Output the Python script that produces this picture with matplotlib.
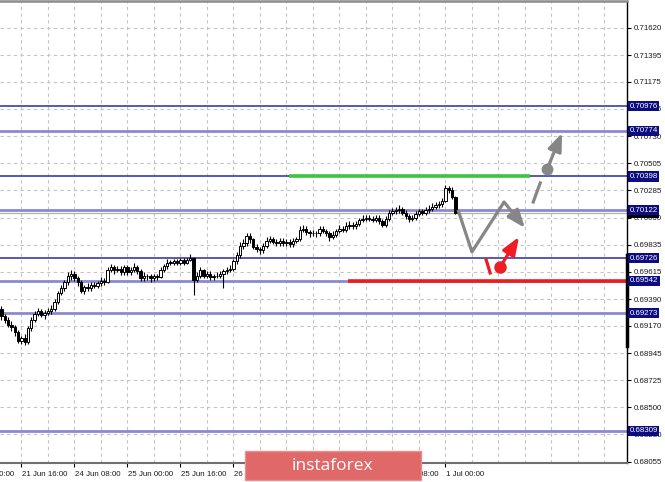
import numpy as np
import matplotlib.pyplot as plt
from matplotlib.patches import Rectangle

# H1 candles, bar index on x
opens = [0.6931, 0.6925, 0.6922, 0.6918, 0.6916, 0.6912, 0.6905, 0.6907, 0.6904, 0.6915,
         0.6922, 0.6927, 0.6929, 0.6926, 0.6928, 0.6929, 0.6931, 0.6937, 0.6944, 0.6948,
         0.6953, 0.6958, 0.6960, 0.6956, 0.6953, 0.6946, 0.6949, 0.6948, 0.6951, 0.6950,
         0.6952, 0.6954, 0.6953, 0.6963, 0.6965, 0.6963, 0.6964, 0.6961, 0.6965, 0.6961,
         0.6963, 0.6965, 0.6962, 0.6956, 0.6958, 0.6958, 0.6956, 0.6958, 0.6957, 0.6963,
         0.6966, 0.6969, 0.6969, 0.6970, 0.6969, 0.6971, 0.6969, 0.6971, 0.6973, 0.6955,
         0.6958, 0.6963, 0.6958, 0.6960, 0.6957, 0.6958, 0.6958, 0.6960, 0.6962, 0.6963,
         0.6964, 0.6970, 0.6975, 0.6983, 0.6985, 0.6991, 0.6988, 0.6982, 0.6980, 0.6979,
         0.6983, 0.6987, 0.6988, 0.6986, 0.6985, 0.6987, 0.6985, 0.6986, 0.6984, 0.6987,
         0.6988, 0.6996, 0.6997, 0.6994, 0.6993, 0.6993, 0.6993, 0.6997, 0.6995, 0.6993,
         0.6990, 0.6992, 0.6995, 0.6997, 0.6996, 0.6999, 0.7000, 0.6999, 0.7001, 0.7004,
         0.7005, 0.7006, 0.7005, 0.7004, 0.7006, 0.7003, 0.7000, 0.7005, 0.7010, 0.7011,
         0.7012, 0.7013, 0.7010, 0.7007, 0.7005, 0.7006, 0.7009, 0.7011, 0.7010, 0.7012,
         0.7013, 0.7015, 0.7016, 0.7017, 0.7020, 0.7030, 0.7029, 0.7023]
highs = [0.6933, 0.6927, 0.6924, 0.6921, 0.6918, 0.6914, 0.6909, 0.6910, 0.6917, 0.6924,
         0.6929, 0.6932, 0.6931, 0.6930, 0.6932, 0.6934, 0.6939, 0.6946, 0.6951, 0.6955,
         0.6961, 0.6963, 0.6962, 0.6958, 0.6955, 0.6951, 0.6952, 0.6953, 0.6953, 0.6954,
         0.6957, 0.6956, 0.6965, 0.6968, 0.6967, 0.6966, 0.6966, 0.6967, 0.6967, 0.6965,
         0.6969, 0.6967, 0.6964, 0.6961, 0.6960, 0.6960, 0.6960, 0.6960, 0.6965, 0.6968,
         0.6972, 0.6971, 0.6972, 0.6972, 0.6973, 0.6973, 0.6973, 0.6976, 0.6974, 0.6961,
         0.6965, 0.6964, 0.6962, 0.6962, 0.6960, 0.6961, 0.6962, 0.6964, 0.6965, 0.6967,
         0.6972, 0.6978, 0.6986, 0.6988, 0.6993, 0.6993, 0.6989, 0.6984, 0.6982, 0.6985,
         0.6990, 0.6991, 0.6990, 0.6988, 0.6989, 0.6989, 0.6988, 0.6988, 0.6989, 0.6990,
         0.6999, 0.7000, 0.6999, 0.6996, 0.6996, 0.6995, 0.6999, 0.6999, 0.6997, 0.6995,
         0.6995, 0.6997, 0.7000, 0.6999, 0.7002, 0.7003, 0.7002, 0.7003, 0.7006, 0.7008,
         0.7008, 0.7008, 0.7007, 0.7008, 0.7008, 0.7005, 0.7007, 0.7012, 0.7014, 0.7015,
         0.7016, 0.7015, 0.7012, 0.7009, 0.7008, 0.7011, 0.7013, 0.7013, 0.7015, 0.7016,
         0.7018, 0.7019, 0.7020, 0.7022, 0.7033, 0.7032, 0.7031, 0.7024]
lows = [0.6922, 0.6919, 0.6916, 0.6913, 0.6909, 0.6903, 0.6902, 0.6901, 0.6902, 0.6913,
        0.6920, 0.6925, 0.6924, 0.6923, 0.6926, 0.6927, 0.6929, 0.6935, 0.6942, 0.6946,
        0.6951, 0.6955, 0.6954, 0.6950, 0.6944, 0.6943, 0.6946, 0.6946, 0.6948, 0.6948,
        0.6950, 0.6951, 0.6952, 0.6961, 0.6960, 0.6961, 0.6959, 0.6959, 0.6959, 0.6959,
        0.6961, 0.6960, 0.6954, 0.6954, 0.6955, 0.6953, 0.6954, 0.6955, 0.6956, 0.6961,
        0.6964, 0.6967, 0.6967, 0.6967, 0.6967, 0.6967, 0.6968, 0.6970, 0.6942, 0.6953,
        0.6956, 0.6956, 0.6956, 0.6955, 0.6955, 0.6956, 0.6956, 0.6948, 0.6960, 0.6961,
        0.6962, 0.6968, 0.6973, 0.6980, 0.6983, 0.6985, 0.6980, 0.6978, 0.6976, 0.6977,
        0.6981, 0.6985, 0.6984, 0.6983, 0.6983, 0.6983, 0.6983, 0.6982, 0.6982, 0.6985,
        0.6987, 0.6994, 0.6992, 0.6990, 0.6991, 0.6990, 0.6991, 0.6993, 0.6991, 0.6987,
        0.6988, 0.6990, 0.6993, 0.6994, 0.6994, 0.6997, 0.6997, 0.6997, 0.6999, 0.7002,
        0.7003, 0.7003, 0.7002, 0.7002, 0.7001, 0.6998, 0.6998, 0.7003, 0.7008, 0.7009,
        0.7010, 0.7008, 0.7005, 0.7002, 0.7003, 0.7004, 0.7007, 0.7008, 0.7008, 0.7010,
        0.7011, 0.7013, 0.7014, 0.7015, 0.7019, 0.7026, 0.7021, 0.7009]
closes = [0.6925, 0.6922, 0.6918, 0.6916, 0.6912, 0.6905, 0.6907, 0.6904, 0.6915, 0.6922,
          0.6927, 0.6929, 0.6926, 0.6928, 0.6929, 0.6931, 0.6937, 0.6944, 0.6948, 0.6953,
          0.6958, 0.6960, 0.6956, 0.6953, 0.6946, 0.6949, 0.6948, 0.6951, 0.6950, 0.6952,
          0.6954, 0.6953, 0.6963, 0.6965, 0.6963, 0.6964, 0.6961, 0.6965, 0.6961, 0.6963,
          0.6965, 0.6962, 0.6956, 0.6958, 0.6958, 0.6956, 0.6958, 0.6957, 0.6963, 0.6966,
          0.6969, 0.6969, 0.6970, 0.6969, 0.6971, 0.6969, 0.6971, 0.6973, 0.6955, 0.6958,
          0.6963, 0.6958, 0.6960, 0.6957, 0.6958, 0.6958, 0.6960, 0.6962, 0.6963, 0.6964,
          0.6970, 0.6975, 0.6983, 0.6985, 0.6991, 0.6988, 0.6982, 0.6980, 0.6979, 0.6983,
          0.6987, 0.6988, 0.6986, 0.6985, 0.6987, 0.6985, 0.6986, 0.6984, 0.6987, 0.6988,
          0.6996, 0.6997, 0.6994, 0.6993, 0.6993, 0.6993, 0.6997, 0.6995, 0.6993, 0.6990,
          0.6992, 0.6995, 0.6997, 0.6996, 0.6999, 0.7000, 0.6999, 0.7001, 0.7004, 0.7005,
          0.7006, 0.7005, 0.7004, 0.7006, 0.7003, 0.7000, 0.7005, 0.7010, 0.7011, 0.7012,
          0.7013, 0.7010, 0.7007, 0.7005, 0.7006, 0.7009, 0.7011, 0.7010, 0.7012, 0.7013,
          0.7015, 0.7016, 0.7017, 0.7020, 0.7030, 0.7029, 0.7023, 0.7010]
bid = 0.70100

# price scale on the right
price_ticks = [0.71620, 0.71395, 0.71175, 0.70955, 0.70730, 0.70505, 0.70285, 0.70060,
               0.69835, 0.69615, 0.69390, 0.69170, 0.68945, 0.68725, 0.68500, 0.68280, 0.68055]

# time scale
date_bars = [-10, 6, 22, 38, 54, 70, 86, 102, 118, 134]
date_labels = ["21 Jun 00:00", "21 Jun 16:00", "24 Jun 08:00", "25 Jun 00:00", "25 Jun 16:00",
               "26 Jun 08:00", "27 Jun 00:00", "27 Jun 16:00", "28 Jun 08:00", "1 Jul 00:00"]

# support / resistance levels
levels = [0.70976, 0.70774, 0.70398, 0.70122, 0.69726, 0.69542, 0.69273, 0.68309]
level_light = [False, True, False, True, False, True, True, True]

green_level, green_from, green_to = 0.70398, 86.8, 159.5
red_level, red_from = 0.69542, 104.6

# forecast drawing
gray_path_x = [137.8, 142.0, 151.7, 158.0]
gray_path_y = [0.70123, 0.69778, 0.70188, 0.69975]
gray_dash_x = [160.5, 162.6]
gray_dash_y = [0.70188, 0.70344]
gray_dot = (164.7, 0.70459)
gray_tip = (169.2, 0.70755)
red_dash_x = [146.3, 147.5]
red_dash_y = [0.69712, 0.69605]
red_dot = (150.5, 0.69654)
red_tip = (156.2, 0.69901)

xmin, xmax = -0.45, 188.8
ymin, ymax = 0.68044, 0.71839

fig = plt.figure(figsize=(6.65, 4.82), dpi=100)
ax = fig.add_axes([0, 19 / 482, 627 / 665, 462 / 482])
ax.set_xlim(xmin, xmax)
ax.set_ylim(ymin, ymax)

font = 'Liberation Sans'
fs = 5.7

# grid
for b in np.arange(-2, xmax, 8):
    ax.axvline(b, color='#c4c4c4', lw=0.8, ls=(0, (3, 3)), zorder=0)
for p in price_ticks:
    ax.axhline(p, color='#c4c4c4', lw=0.8, ls=(0, (3, 3)), zorder=0)

# levels
for lv, light in zip(levels, level_light):
    if light:
        ax.axhline(lv, color='#8a8ad0', lw=2.0, zorder=1)
    else:
        ax.axhline(lv, color='#3c3ca8', lw=1.2, zorder=1)
ax.axhline(bid, color='#b0b0b0', lw=0.9, zorder=1)

ax.hlines(green_level, green_from, green_to, color='#3cc43c', lw=2.6, zorder=2)
ax.hlines(red_level, red_from, xmax, color='#ee1c1c', lw=2.6, zorder=2)

# candles
for i, (o, h, l, c) in enumerate(zip(opens, highs, lows, closes)):
    ax.vlines(i, l, h, color='black', lw=0.8, zorder=3)
    body = max(abs(c - o), 0.00003)
    if c >= o:
        ax.bar(i, body, 0.7, bottom=min(o, c), color='white', edgecolor='black', lw=0.7, zorder=4)
    else:
        ax.bar(i, body, 0.7, bottom=min(o, c), color='black', edgecolor='black', lw=0.7, zorder=4)

# forecast arrows
gray = '#868686'
red = '#ee1c24'
ax.plot(gray_path_x[:3], gray_path_y[:3], color=gray, lw=2.3, solid_capstyle='butt', zorder=5)
ax.annotate('', xy=(gray_path_x[3], gray_path_y[3]), xytext=(gray_path_x[2], gray_path_y[2]),
            arrowprops=dict(arrowstyle='-|>,head_length=0.9,head_width=0.35', color=gray, lw=2.3,
                            shrinkA=0, shrinkB=0, mutation_scale=12), zorder=5)
ax.plot(gray_dash_x, gray_dash_y, color=gray, lw=2.3, zorder=5)
ax.annotate('', xy=gray_tip, xytext=gray_dot,
            arrowprops=dict(arrowstyle='-|>,head_length=0.9,head_width=0.35', color=gray, lw=2.3,
                            shrinkA=0, shrinkB=0, mutation_scale=12), zorder=5)
ax.plot(*gray_dot, 'o', color=gray, ms=7.5, zorder=6)

ax.plot(red_dash_x, red_dash_y, color=red, lw=2.3, zorder=5)
ax.annotate('', xy=red_tip, xytext=red_dot,
            arrowprops=dict(arrowstyle='-|>,head_length=0.9,head_width=0.35', color=red, lw=2.3,
                            shrinkA=0, shrinkB=0, mutation_scale=12), zorder=5)
ax.plot(*red_dot, 'o', color=red, ms=8, zorder=6)

# axes frame
ax.spines['left'].set_visible(False)
ax.spines['right'].set_color('black')
ax.spines['right'].set_linewidth(1.0)
ax.spines['bottom'].set_color('#707070')
ax.spines['bottom'].set_linewidth(1.5)
ax.spines['top'].set_color('#8c8c8c')
ax.spines['top'].set_linewidth(1.8)

ax.yaxis.tick_right()
ax.set_yticks(price_ticks)
ax.set_yticklabels(['%.5f' % p for p in price_ticks], fontsize=fs, family=font, color='#1a1a1a')
ax.tick_params(axis='y', length=3, width=0.8, pad=1.5, color='black')

ax.set_xticks(date_bars[1:])
ax.set_xticklabels([])
ax.tick_params(axis='x', length=3, width=0.8, color='black')
for b, lab in zip(date_bars, date_labels):
    ax.text(b + 0.1, -0.024, lab, transform=ax.get_xaxis_transform(), ha='left', va='center',
            fontsize=fs, family=font, color='#1a1a1a', clip_on=False)

# black strip on price scale
ax.plot([xmax, xmax], [0.69009, 0.69753], color='black', lw=2.5, clip_on=False, zorder=7)

# current price label
ax.text(1.004, bid, '%.5f' % bid, transform=ax.get_yaxis_transform(), ha='left', va='center',
        fontsize=fs, family=font, color='white', zorder=8, clip_on=False,
        bbox=dict(boxstyle='square,pad=0.2', fc='black', ec='none'))

# level labels
for lv in levels:
    ax.text(1.004, lv, '%.5f' % lv, transform=ax.get_yaxis_transform(), ha='left', va='center',
            fontsize=fs, family=font, color='white', zorder=9, clip_on=False,
            bbox=dict(boxstyle='square,pad=0.2', fc='#0c0c80', ec='none'))

# watermark
fig.add_artist(Rectangle((245 / 665, 2 / 482), 176 / 665, 29 / 482, transform=fig.transFigure,
                         fc='#e06868', ec='#e89090', lw=1, zorder=20))
fig.text(332 / 665, 16 / 482, 'instaforex', ha='center', va='center', color='white',
         fontsize=12.5, family='Open Sans', zorder=21)

fig.savefig('out.png', dpi=100)
